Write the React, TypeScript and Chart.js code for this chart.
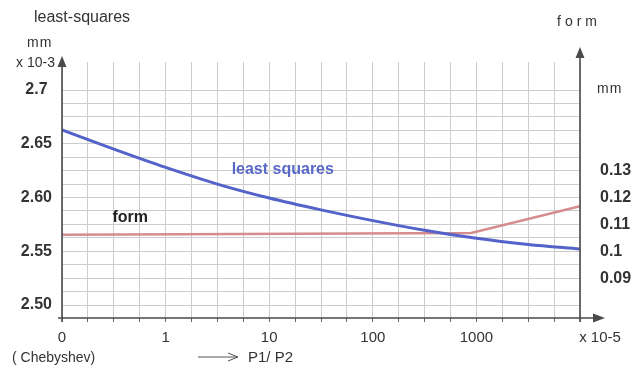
import React, { useEffect, useRef } from 'react';
import { Chart, registerables } from 'chart.js';

Chart.register(...registerables);

// ---- data ----
// x positions are in axis units: 0 -> "0", 1 -> "1", 2 -> "10", 3 -> "100", 4 -> "1000" (x 10-5)
const xTickPositions = [0, 1, 2, 3, 4];
const xTickLabels = ['0', '1', '10', '100', '1000'];
const leftTickValues = [2.5, 2.55, 2.6, 2.65, 2.7];
const leftTickLabels = ['2.50', '2.55', '2.60', '2.65', '2.7'];
const rightTickValues = [0.09, 0.1, 0.11, 0.12, 0.13];
const rightTickLabels = ['0.09', '0.1', '0.11', '0.12', '0.13'];

const lsqX = [0, 0.5, 1.0, 1.5, 2.0, 2.5, 3.0, 3.5, 4.0, 4.5, 5.0];
const lsqY = [2.6628, 2.645, 2.628, 2.6125, 2.5995, 2.5885, 2.5785, 2.5695, 2.562, 2.5563, 2.5521];

const formX = [0, 3.95, 5.0];
const formY = [0.1061, 0.1068, 0.1168];

const lsqLabelPos = { x: 2.12, y: 2.6256 };
const formLabelPos = { x: 0.67, y: 2.5809 };

const FONT = '"Liberation Sans", Arial, sans-serif';
const TEXT = '#333333';
const AXIS = '#4a4a4a';
const GRID = '#cccccc';

const near = (a: number, b: number) => Math.abs(a - b) < 1e-6;

const decorPlugin = {
  id: 'decor',
  afterDraw(chart: any) {
    const ctx = chart.ctx as CanvasRenderingContext2D;
    const { left, right, top, bottom } = chart.chartArea;
    ctx.save();
    ctx.strokeStyle = AXIS;
    ctx.fillStyle = AXIS;
    ctx.lineWidth = 1.6;
    // left axis
    ctx.beginPath();
    ctx.moveTo(left, bottom + 4);
    ctx.lineTo(left, top + 4);
    ctx.stroke();
    ctx.beginPath();
    ctx.moveTo(left, top - 6);
    ctx.lineTo(left - 4.5, top + 5);
    ctx.lineTo(left + 4.5, top + 5);
    ctx.closePath();
    ctx.fill();
    // right axis
    ctx.beginPath();
    ctx.moveTo(right, bottom + 4);
    ctx.lineTo(right, top - 6);
    ctx.stroke();
    ctx.beginPath();
    ctx.moveTo(right, top - 15);
    ctx.lineTo(right - 4.5, top - 4);
    ctx.lineTo(right + 4.5, top - 4);
    ctx.closePath();
    ctx.fill();
    // x axis
    ctx.beginPath();
    ctx.moveTo(left - 4, bottom);
    ctx.lineTo(right + 14, bottom);
    ctx.stroke();
    ctx.beginPath();
    ctx.moveTo(right + 25, bottom);
    ctx.lineTo(right + 13, bottom - 4.5);
    ctx.lineTo(right + 13, bottom + 4.5);
    ctx.closePath();
    ctx.fill();

    // texts
    ctx.fillStyle = TEXT;
    ctx.textBaseline = 'middle';
    ctx.font = `16px ${FONT}`;
    ctx.textAlign = 'left';
    ctx.fillText('least-squares', 34, 18);
    ctx.font = `14px ${FONT}`;
    (ctx as any).letterSpacing = '1px';
    ctx.fillText('mm', 27, 43);
    (ctx as any).letterSpacing = '0px';
    ctx.textAlign = 'right';
    ctx.fillText('x 10-3', 55, 63);
    ctx.textAlign = 'left';
    (ctx as any).letterSpacing = '4px';
    ctx.font = `14px ${FONT}`;
    ctx.fillText('form', 557, 22);
    (ctx as any).letterSpacing = '1px';
    ctx.fillText('mm', 597, 89);
    (ctx as any).letterSpacing = '0px';
    ctx.textAlign = 'center';
    ctx.font = `15px ${FONT}`;
    ctx.fillText('x 10-5', 600, 338);
    ctx.textAlign = 'left';
    ctx.font = `14px ${FONT}`;
    ctx.fillText('( Chebyshev)', 12, 358);
    ctx.font = `15px ${FONT}`;
    ctx.fillText('P1/ P2', 248, 358);
    // arrow before P1/P2
    ctx.strokeStyle = '#555';
    ctx.lineWidth = 1;
    ctx.beginPath();
    ctx.moveTo(198, 357);
    ctx.lineTo(238, 357);
    ctx.moveTo(228, 353);
    ctx.lineTo(238, 357);
    ctx.lineTo(228, 361);
    ctx.stroke();

    // in-chart series labels
    const xs = chart.scales.x;
    const ys = chart.scales.y;
    ctx.font = `bold 16px ${FONT}`;
    ctx.fillStyle = '#5a68c8';
    ctx.textAlign = 'left';
    ctx.fillText('least squares', xs.getPixelForValue(lsqLabelPos.x) - 50, ys.getPixelForValue(lsqLabelPos.y));
    ctx.fillStyle = '#222';
    ctx.fillText('form', xs.getPixelForValue(formLabelPos.x) - 19, ys.getPixelForValue(formLabelPos.y));
    ctx.restore();
  },
};

export default function App() {
  const ref = useRef<HTMLCanvasElement>(null);
  useEffect(() => {
    if (!ref.current) return;
    const chart = new Chart(ref.current, {
      type: 'line',
      data: {
        datasets: [
          {
            label: 'least squares',
            data: lsqX.map((x, i) => ({ x, y: lsqY[i] })),
            borderColor: '#5363c9',
            borderWidth: 3,
            pointRadius: 0,
            yAxisID: 'y',
            cubicInterpolationMode: 'monotone',
          },
          {
            label: 'form',
            data: formX.map((x, i) => ({ x, y: formY[i] })),
            borderColor: '#d68c8c',
            borderWidth: 2.5,
            pointRadius: 0,
            yAxisID: 'y1',
            tension: 0,
          },
        ],
      },
      options: {
        animation: false,
        responsive: false,
        devicePixelRatio: 1,
        layout: { padding: { top: 62, left: 0, right: 0, bottom: 0 } },
        plugins: { legend: { display: false }, tooltip: { enabled: false } },
        scales: {
          x: {
            type: 'linear',
            min: 0,
            max: 5,
            afterBuildTicks: (s: any) => {
              s.ticks = Array.from({ length: 21 }, (_, i) => ({ value: i * 0.25 }));
            },
            afterFit: (s: any) => {
              s.height = 51;
            },
            border: { display: false },
            grid: { color: GRID, lineWidth: 1, drawTicks: true, tickLength: 4, tickColor: '#666' },
            ticks: {
              autoSkip: false,
              maxRotation: 0,
              padding: 7,
              color: TEXT,
              font: { family: FONT, size: 15 },
              callback: (v: any) => {
                const i = xTickPositions.findIndex((p) => near(p, Number(v)));
                return i >= 0 ? xTickLabels[i] : '';
              },
            },
          },
          y: {
            type: 'linear',
            position: 'left',
            min: 2.48791,
            max: 2.72605,
            afterBuildTicks: (s: any) => {
              s.ticks = Array.from({ length: 17 }, (_, i) => ({ value: Math.round((2.5 + i * 0.0125) * 1e5) / 1e5 }));
            },
            afterFit: (s: any) => {
              s.width = 62;
            },
            border: { display: false },
            grid: { color: GRID, lineWidth: 1, drawTicks: false },
            ticks: {
              autoSkip: false,
              crossAlign: 'center',
              padding: 10,
              color: TEXT,
              font: { family: FONT, size: 16, weight: 'bold' },
              callback: (v: any) => {
                const i = leftTickValues.findIndex((p) => near(p, Number(v)));
                return i >= 0 ? leftTickLabels[i] : '';
              },
            },
          },
          y1: {
            type: 'linear',
            position: 'right',
            min: 0.075163,
            max: 0.17042,
            afterBuildTicks: (s: any) => {
              s.ticks = rightTickValues.map((value) => ({ value }));
            },
            afterFit: (s: any) => {
              s.width = 52;
            },
            border: { display: false },
            grid: { display: false, drawTicks: false },
            ticks: {
              autoSkip: false,
              padding: 20,
              color: TEXT,
              font: { family: FONT, size: 16, weight: 'bold' },
              callback: (v: any) => {
                const i = rightTickValues.findIndex((p) => near(p, Number(v)));
                return i >= 0 ? rightTickLabels[i] : '';
              },
            },
          },
        },
      },
      plugins: [decorPlugin],
    } as any);
    return () => chart.destroy();
  }, []);
  return (
    <div style={{ position: 'fixed', left: 0, top: 0, width: 632, height: 369, background: '#fff' }}>
      <canvas ref={ref} width={632} height={369} style={{ display: 'block', width: 632, height: 369 }} />
    </div>
  );
}
